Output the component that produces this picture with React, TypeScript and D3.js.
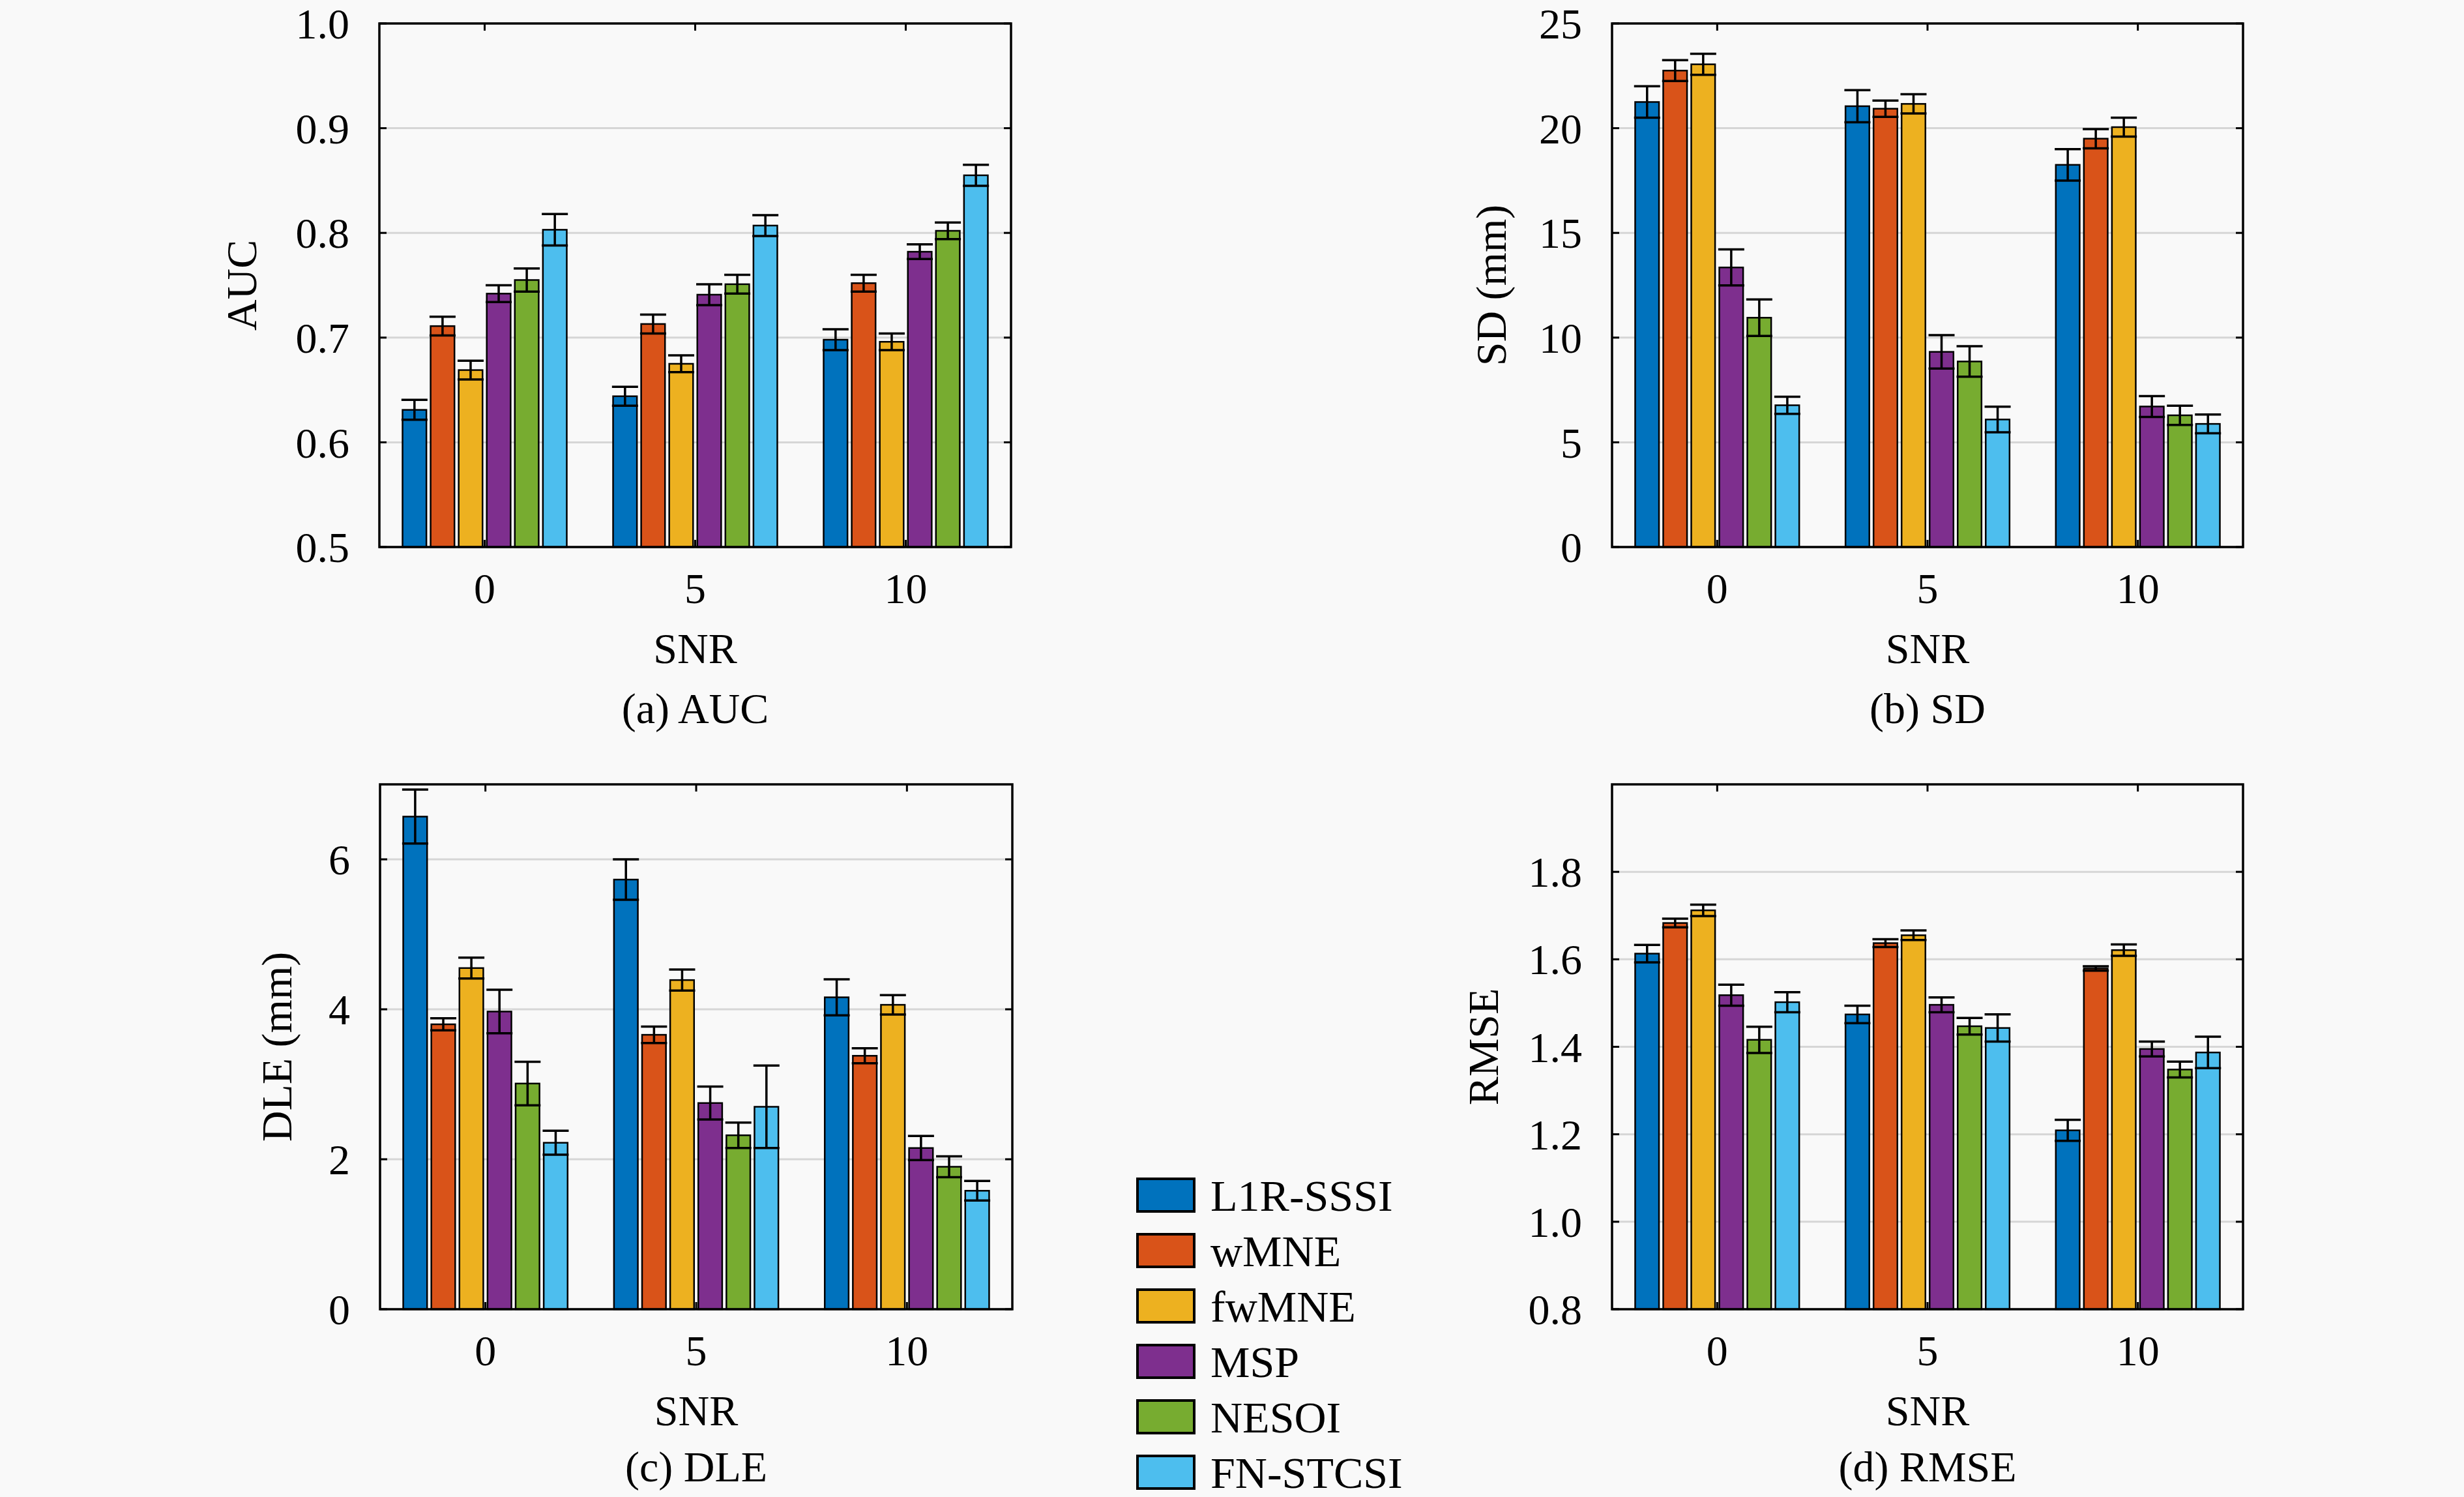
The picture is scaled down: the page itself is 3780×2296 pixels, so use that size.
import React from 'react'
import * as d3 from 'd3'

const methods = ['L1R-SSSI', 'wMNE', 'fwMNE', 'MSP', 'NESOI', 'FN-STCSI']
const colors = ['#0072BD', '#D95319', '#EDB120', '#7E2F8E', '#77AC30', '#4DBEEE']
const snrLevels = [0, 5, 10]

// rows: SNR 0, 5, 10; columns: methods
const aucMean = [
  [0.631, 0.711, 0.669, 0.742, 0.755, 0.803],
  [0.644, 0.713, 0.675, 0.741, 0.751, 0.807],
  [0.698, 0.752, 0.696, 0.782, 0.802, 0.855],
]
const aucErr = [
  [0.0095, 0.009, 0.009, 0.008, 0.011, 0.015],
  [0.009, 0.009, 0.008, 0.010, 0.009, 0.010],
  [0.010, 0.008, 0.008, 0.007, 0.008, 0.010],
]
const sdMean = [
  [21.25, 22.75, 23.05, 13.35, 10.95, 6.77],
  [21.05, 20.93, 21.16, 9.32, 8.86, 6.09],
  [18.25, 19.5, 20.05, 6.71, 6.29, 5.88],
]
const sdErr = [
  [0.75, 0.5, 0.5, 0.86, 0.87, 0.41],
  [0.77, 0.39, 0.46, 0.8, 0.73, 0.61],
  [0.75, 0.46, 0.45, 0.5, 0.46, 0.45],
]
const dleMean = [
  [6.57, 3.8, 4.55, 3.97, 3.01, 2.22],
  [5.73, 3.66, 4.39, 2.75, 2.32, 2.7],
  [4.16, 3.38, 4.06, 2.15, 1.9, 1.58],
]
const dleErr = [
  [0.36, 0.08, 0.14, 0.29, 0.29, 0.16],
  [0.27, 0.11, 0.14, 0.22, 0.17, 0.55],
  [0.24, 0.1, 0.13, 0.16, 0.14, 0.13],
]
const rmseMean = [
  [1.613, 1.683, 1.712, 1.518, 1.416, 1.502],
  [1.474, 1.637, 1.655, 1.496, 1.447, 1.443],
  [1.209, 1.579, 1.621, 1.395, 1.348, 1.387],
]
const rmseErr = [
  [0.02, 0.01, 0.013, 0.024, 0.03, 0.023],
  [0.02, 0.009, 0.011, 0.017, 0.019, 0.031],
  [0.024, 0.005, 0.013, 0.017, 0.018, 0.036],
]

const aucTicks = [0.5, 0.6, 0.7, 0.8, 0.9, 1.0]
const sdTicks = [0, 5, 10, 15, 20, 25]
const dleTicks = [0, 2, 4, 6]
const rmseTicks = [0.8, 1.0, 1.2, 1.4, 1.6, 1.8]

const FONT = "'Liberation Serif', 'DejaVu Serif', serif"
const FS = 66

type PanelProps = {
  mean: number[][]
  err: number[][]
  domain: [number, number]
  ticks: number[]
  fmt: (v: number) => string
  yTitle: string
  caption: string
  left: number
  right: number
  top: number
  bottom: number
  titleX: number
  captionDy: number
}

const Panel: React.FunctionComponent<PanelProps> = ({
  mean, err, domain, ticks, fmt, yTitle, caption, left, right, top, bottom, titleX, captionDy,
}) => {
  const x = d3.scaleLinear().domain([-2.5, 12.5]).range([left, right])
  const y = d3.scaleLinear().domain(domain).range([bottom, top])
  const band = d3.scaleBand<string>().domain(methods).range([-2, 2])
  const unit = x(1) - x(0)
  const barW = band.bandwidth() * unit * 0.85
  const cap = 40
  const tickLen = 11
  const cx = (left + right) / 2

  return (
    <g>
      {ticks.map(t => (
        <line key={'g' + t} x1={left} x2={right} y1={y(t)} y2={y(t)} stroke="#d6d6d6" strokeWidth={3} />
      ))}
      {snrLevels.map((s, gi) =>
        methods.map((m, mi) => {
          const c = x(s + (band(m) as number) + band.bandwidth() / 2)
          const v = mean[gi][mi]
          const e = err[gi][mi]
          return (
            <g key={s + m}>
              <rect
                x={c - barW / 2}
                y={y(v)}
                width={barW}
                height={y(domain[0]) - y(v)}
                fill={colors[mi]}
                stroke="#000"
                strokeWidth={2.5}
              />
              <line x1={c} x2={c} y1={y(v - e)} y2={y(v + e)} stroke="#000" strokeWidth={3.5} />
              <line x1={c - cap / 2} x2={c + cap / 2} y1={y(v - e)} y2={y(v - e)} stroke="#000" strokeWidth={3.5} />
              <line x1={c - cap / 2} x2={c + cap / 2} y1={y(v + e)} y2={y(v + e)} stroke="#000" strokeWidth={3.5} />
            </g>
          )
        })
      )}
      {ticks.map(t => (
        <g key={'t' + t}>
          <line x1={left} x2={left + tickLen} y1={y(t)} y2={y(t)} stroke="#000" strokeWidth={3} />
          <line x1={right} x2={right - tickLen} y1={y(t)} y2={y(t)} stroke="#000" strokeWidth={3} />
          <text x={left - 46} y={y(t)} dy="0.35em" textAnchor="end" fontSize={FS} fontFamily={FONT}>
            {fmt(t)}
          </text>
        </g>
      ))}
      {snrLevels.map(s => (
        <g key={'x' + s}>
          <line x1={x(s)} x2={x(s)} y1={top} y2={top + tickLen} stroke="#000" strokeWidth={3} />
          <line x1={x(s)} x2={x(s)} y1={bottom} y2={bottom - tickLen} stroke="#000" strokeWidth={3} />
          <text x={x(s)} y={bottom + 86} textAnchor="middle" fontSize={FS} fontFamily={FONT}>
            {s}
          </text>
        </g>
      ))}
      <rect x={left} y={top} width={right - left} height={bottom - top} fill="none" stroke="#000" strokeWidth={3.5} />
      <text x={cx} y={bottom + 178} textAnchor="middle" fontSize={FS} fontFamily={FONT}>
        SNR
      </text>
      <text x={cx} y={bottom + captionDy} textAnchor="middle" fontSize={FS} fontFamily={FONT}>
        {caption}
      </text>
      <text
        transform={`translate(${titleX},${(top + bottom) / 2}) rotate(-90)`}
        dy="0.35em"
        textAnchor="middle"
        fontSize={FS}
        fontFamily={FONT}
      >
        {yTitle}
      </text>
    </g>
  )
}

const App: React.FunctionComponent = () => {
  const f1 = d3.format('.1f')
  const f0 = d3.format('d')
  const legendY = d3.scaleBand<string>().domain(methods).range([1808, 1808 + 85 * 6])

  return (
    <svg
      width={3780}
      height={2296}
      style={{ position: 'absolute', left: 0, top: 0, display: 'block', background: '#f9f9f9' }}
    >
      <rect width={3780} height={2296} fill="#f9f9f9" />
      <Panel mean={aucMean} err={aucErr} domain={[0.5, 1.0]} ticks={aucTicks} fmt={f1}
        yTitle="AUC" caption="(a) AUC" left={582} right={1551} top={36} bottom={839} titleX={370} captionDy={270} />
      <Panel mean={sdMean} err={sdErr} domain={[0, 25]} ticks={sdTicks} fmt={f0}
        yTitle="SD (mm)" caption="(b) SD" left={2473} right={3441} top={36} bottom={839} titleX={2287} captionDy={270} />
      <Panel mean={dleMean} err={dleErr} domain={[0, 7]} ticks={dleTicks} fmt={f0}
        yTitle="DLE (mm)" caption="(c) DLE" left={583} right={1553} top={1203} bottom={2008} titleX={424} captionDy={264} />
      <Panel mean={rmseMean} err={rmseErr} domain={[0.8, 2.0]} ticks={rmseTicks} fmt={f1}
        yTitle="RMSE" caption="(d) RMSE" left={2473} right={3441} top={1203} bottom={2008} titleX={2275} captionDy={264} />
      {methods.map((m, i) => {
        const ty = legendY(m) as number
        return (
          <g key={'l' + m}>
            <rect x={1745} y={ty} width={87} height={50} fill={colors[i]} stroke="#000" strokeWidth={4} />
            <text x={1857} y={ty + 25} dy="0.35em" fontSize={68} fontFamily={FONT}>
              {m}
            </text>
          </g>
        )
      })}
    </svg>
  )
}

export default App
